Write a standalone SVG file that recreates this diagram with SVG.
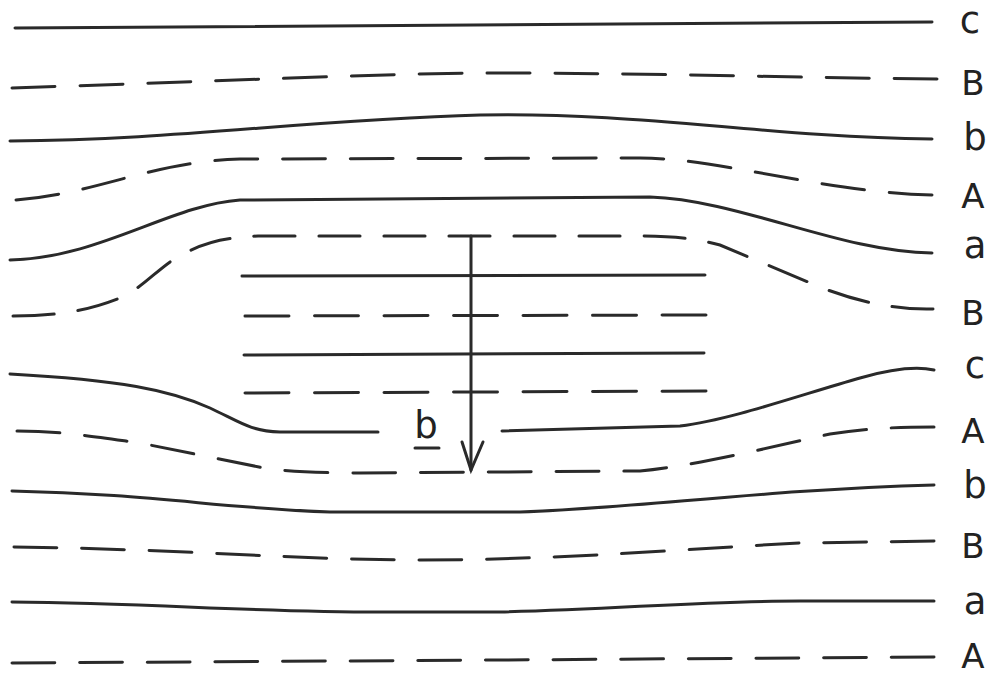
<svg xmlns="http://www.w3.org/2000/svg" width="987" height="675" viewBox="0 0 987 675">
<style>
.s{fill:none;stroke:#2a2a2a;stroke-width:3;stroke-linecap:round}
.d{fill:none;stroke:#2a2a2a;stroke-width:3;stroke-linecap:round;stroke-dasharray:43 25}
.lbl{font-family:"DejaVu Sans","Liberation Sans",sans-serif;fill:#222;text-anchor:middle}
.cap{font-size:34px}
.low{font-size:37px}
</style>
<rect width="987" height="675" fill="#fff"/>
<g id="layers">
<path id="c1" class="s" d="M15,28 C300,27 600,24 932,22"/>
<path id="B1" class="d" pathLength="927" d="M12,88 C250,80 400,73 495,73 C650,73 800,78 937,79"/>
<path id="b1" class="s" d="M10,141 C180,140 300,120 480,115 C650,112 760,137 932,139"/>
<path id="A1" class="d" pathLength="927" d="M16,200 C100,193 150,162 240,159 L640,158 C720,158 820,192 932,195"/>
<path id="a1" class="s" d="M10,260 C100,258 170,205 240,200 L650,197 C740,200 840,252 932,253"/>
<path id="B2" class="d" pathLength="995" d="M13,316 C60,316 90,310 120,298 C145,287 160,265 185,253 C205,243 220,238 258,236 L640,236 C680,236 700,240 720,245 L820,287 C860,303 900,310 933,309"/>
<path id="c2" class="s" d="M242,276 L705,275"/>
<path id="B3" class="d" pathLength="451" d="M245,316 L706,315"/>
<path id="c3" class="s" d="M244,355 L704,353"/>
<path id="B4" class="d" pathLength="451" d="M245,393 L706,391"/>
<path id="c4l" class="s" d="M10,374 C120,380 170,390 210,408 C240,422 250,431 280,432 L378,432"/>
<path id="c4r" class="s" d="M502,431 L680,426 C730,420 800,395 860,378 C895,368 920,367 934,370"/>
<path id="A2" class="d" pathLength="927" d="M17,431 C60,431 90,436 140,443 L264,468 C290,472 330,473 360,473 L640,471 C700,465 780,445 830,434 C870,428 900,427 934,427"/>
<path id="b2" class="s" d="M12,491 C150,494 220,508 330,512 L520,512 C640,508 760,490 934,485"/>
<path id="B5" class="d" pathLength="927" d="M14,547 C180,549 300,560 420,560 C560,560 700,548 800,543 L934,541"/>
<path id="a2" class="s" d="M12,602 C150,603 250,612 380,612 L500,612 C620,609 700,601 800,601 L934,601"/>
<path id="A3" class="d" pathLength="927" d="M12,663 L500,660 L934,657"/>
</g>
<g id="burgers">
<path class="s" d="M471,236 L471,470" stroke-width="3.5"/>
<path class="s" d="M462,442 L471,470 L483,442" stroke-width="3.5"/>
<text class="lbl low" x="426" y="438">b</text>
<path class="s" d="M415,448 L439,448" stroke-width="2.5"/>
</g>
<g id="labels">
<text class="lbl low" x="970" y="33">c</text>
<text class="lbl cap" x="973" y="95">B</text>
<text class="lbl low" x="975" y="150">b</text>
<text class="lbl cap" x="973" y="208">A</text>
<text class="lbl low" x="975" y="258">a</text>
<text class="lbl cap" x="973" y="325">B</text>
<text class="lbl low" x="975" y="378">c</text>
<text class="lbl cap" x="973" y="443">A</text>
<text class="lbl low" x="975" y="498">b</text>
<text class="lbl cap" x="973" y="558">B</text>
<text class="lbl low" x="975" y="614">a</text>
<text class="lbl cap" x="973" y="668">A</text>
</g>
</svg>
